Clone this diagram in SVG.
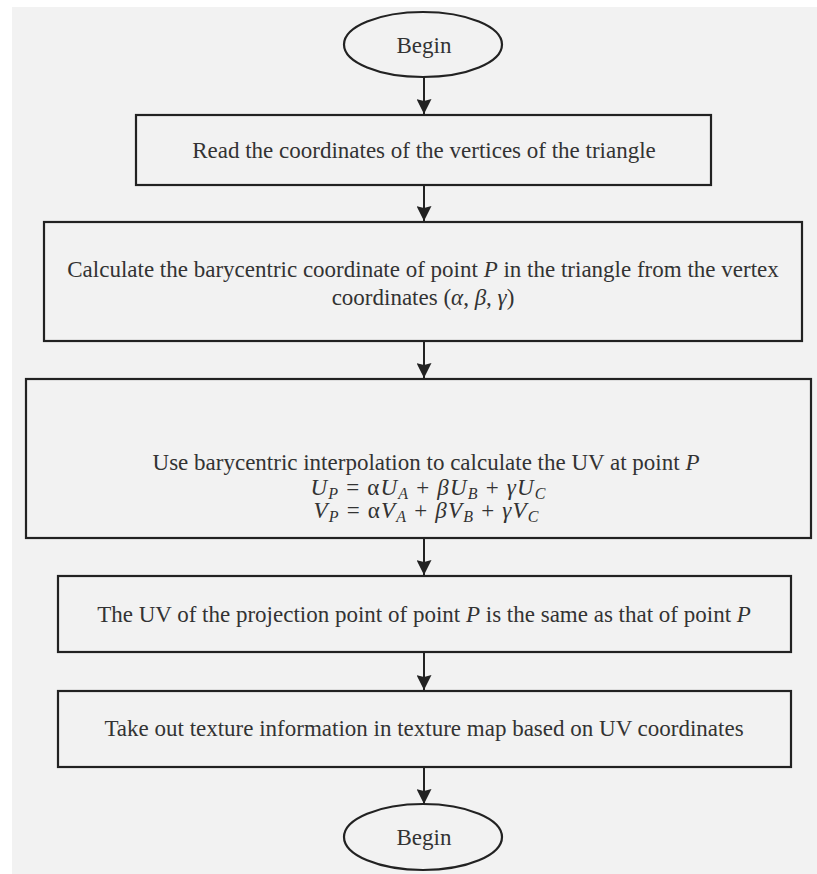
<svg xmlns="http://www.w3.org/2000/svg" width="817" height="874" viewBox="0 0 817 874">
<defs>
<marker id="ah" markerWidth="15" markerHeight="15" refX="15" refY="7.5" orient="auto" markerUnits="userSpaceOnUse" viewBox="0 0 15 15">
<path d="M0,0 L15,7.5 L0,15 L2,7.5 Z" fill="#222"/>
</marker>
</defs>
<style>
.box{fill:#f2f2f2;stroke:#222;stroke-width:2.2}
.t{font-family:"Liberation Serif","Times New Roman",serif;font-size:23px;fill:#333;text-anchor:middle}
.m{font-family:"Liberation Serif","Times New Roman",serif;font-size:23px;fill:#333;font-style:italic;text-anchor:middle}
.up{font-style:normal}
.c{stroke:#222;stroke-width:2;fill:none;marker-end:url(#ah)}
</style>
<rect x="0" y="0" width="817" height="874" fill="#ffffff"/>
<rect x="12" y="7" width="805" height="867" fill="#f2f2f2"/>
<g id="connectors">
<line class="c" x1="424" y1="77" x2="424" y2="114"/>
<line class="c" x1="424" y1="185" x2="424" y2="221"/>
<line class="c" x1="424" y1="342" x2="424" y2="378"/>
<line class="c" x1="424" y1="539" x2="424" y2="575"/>
<line class="c" x1="424" y1="653" x2="424" y2="690"/>
<line class="c" x1="424" y1="767" x2="424" y2="804"/>
</g>
<g id="start">
<ellipse class="box" cx="423" cy="44.5" rx="79" ry="32.5"/>
<text class="t" x="424" y="53">Begin</text>
</g>
<g id="read">
<rect class="box" x="136" y="115" width="575" height="70"/>
<text class="t" x="424" y="158">Read the coordinates of the vertices of the triangle</text>
</g>
<g id="bary">
<rect class="box" x="44" y="222" width="758" height="119"/>
<text class="t" x="423" y="277">Calculate the barycentric coordinate of point <tspan font-style="italic">P</tspan> in the triangle from the vertex</text>
<text class="t" x="423" y="305">coordinates (<tspan font-style="italic">α</tspan>, <tspan font-style="italic">β</tspan>, <tspan font-style="italic">γ</tspan>)</text>
</g>
<g id="interp">
<rect class="box" x="26" y="379" width="785" height="159"/>
<text class="t" x="426" y="470">Use barycentric interpolation to calculate the UV at point <tspan font-style="italic">P</tspan></text>
<text class="m" x="428" y="495" textLength="235" lengthAdjust="spacing">U<tspan font-size="16" dy="4">P</tspan><tspan dy="-4" class="up"> = α</tspan>U<tspan font-size="16" dy="4">A</tspan><tspan dy="-4" class="up"> + </tspan>βU<tspan font-size="16" dy="4">B</tspan><tspan dy="-4" class="up"> + </tspan>γU<tspan font-size="16" dy="4">C</tspan></text>
<text class="m" x="426" y="518" textLength="225" lengthAdjust="spacing">V<tspan font-size="16" dy="4">P</tspan><tspan dy="-4" class="up"> = α</tspan>V<tspan font-size="16" dy="4">A</tspan><tspan dy="-4" class="up"> + </tspan>βV<tspan font-size="16" dy="4">B</tspan><tspan dy="-4" class="up"> + </tspan>γV<tspan font-size="16" dy="4">C</tspan></text>
</g>
<g id="proj">
<rect class="box" x="58" y="576" width="733" height="76"/>
<text class="t" x="424" y="622">The UV of the projection point of point <tspan font-style="italic">P</tspan> is the same as that of point <tspan font-style="italic">P</tspan></text>
</g>
<g id="texture">
<rect class="box" x="58" y="691" width="733" height="76"/>
<text class="t" x="424" y="736">Take out texture information in texture map based on UV coordinates</text>
</g>
<g id="end">
<ellipse class="box" cx="423" cy="837" rx="79" ry="33"/>
<text class="t" x="424" y="845">Begin</text>
</g>
</svg>
